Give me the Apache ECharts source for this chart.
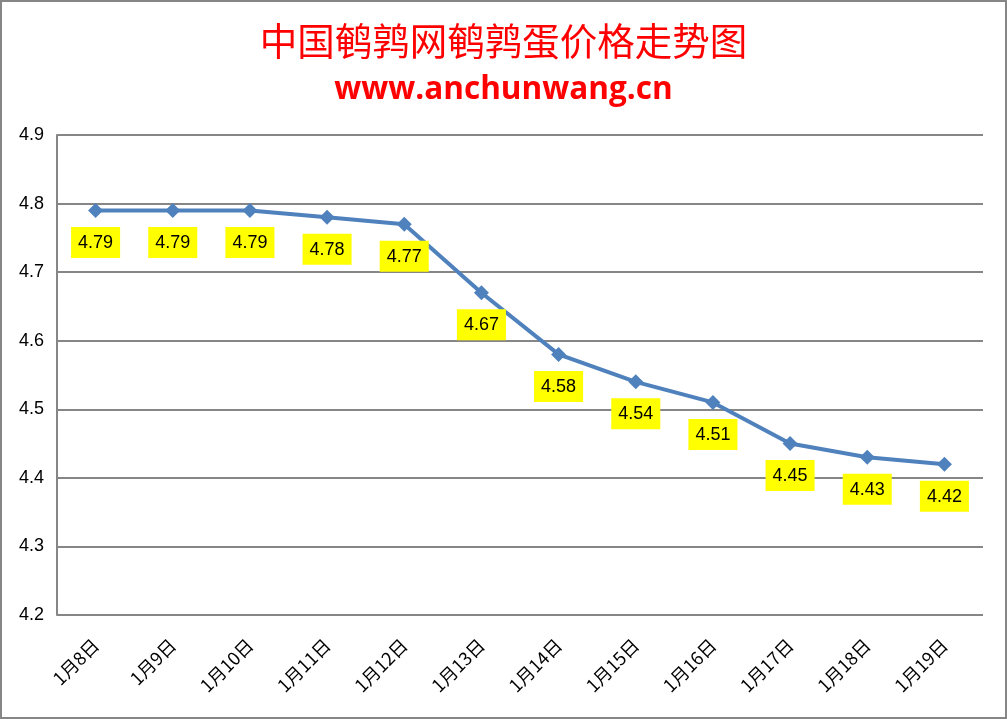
<!DOCTYPE html>
<html><head><meta charset="utf-8">
<script src="https://cdn.jsdelivr.net/npm/echarts@6/dist/echarts.min.js"></script>
<style>html,body{margin:0;padding:0;background:#fff}#c{width:1007px;height:719px;box-sizing:border-box;border:2px solid #868686}</style>
</head><body><div id="c"></div>
<script>
const categories = ['1月8日','1月9日','1月10日','1月11日','1月12日','1月13日','1月14日','1月15日','1月16日','1月17日','1月18日','1月19日'];
const prices = [4.79,4.79,4.79,4.78,4.77,4.67,4.58,4.54,4.51,4.45,4.43,4.42];
const yTicks = [4.2,4.3,4.4,4.5,4.6,4.7,4.8,4.9];
const chart = echarts.init(document.getElementById('c'));
chart.setOption({
  animation:false,
  title:[{text:'中国鹌鹑网鹌鹑蛋价格走势图',left:'center',top:15,textStyle:{color:'#ff0000',fontSize:37.5,fontWeight:'normal',fontFamily:'Noto Sans CJK SC'}},
         {text:'www.anchunwang.cn',left:'center',top:67,textStyle:{color:'#ff0000',fontSize:31.5,fontWeight:'bold',fontFamily:'Open Sans'}}],
  grid:{left:55,right:22,top:133,bottom:102},
  xAxis:{type:'category',data:categories,boundaryGap:true,
    axisLine:{show:false},axisTick:{show:false},
    axisLabel:{rotate:45,fontSize:18,color:'#000',fontFamily:'Noto Sans CJK SC',margin:27,interval:0}},
  yAxis:{type:'value',min:4.2,max:4.9,interval:0.1,
    axisLine:{show:true,lineStyle:{color:'#868686',width:2}},
    axisTick:{show:false},
    splitLine:{lineStyle:{color:'#868686',width:2}},
    axisLabel:{fontSize:18,color:'#000',fontFamily:'Liberation Sans',margin:13,formatter:v=>v.toFixed(1)}},
  series:[{type:'line',data:prices,symbol:'diamond',symbolSize:15,
    lineStyle:{color:'#4f81bd',width:4},itemStyle:{color:'#4f81bd'},
    label:{show:true,position:'bottom',distance:9,backgroundColor:'#ffff00',color:'#000',fontSize:18,fontFamily:'Liberation Sans',padding:[7,7,6,7],formatter:p=>p.value.toFixed(2)}}]
});
</script></body></html>
